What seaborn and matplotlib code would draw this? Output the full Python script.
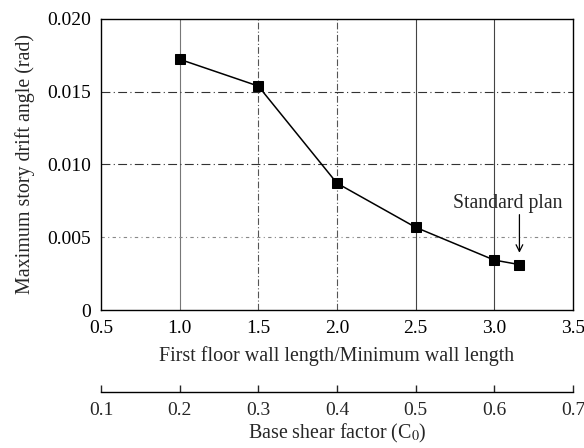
import matplotlib
matplotlib.use("Agg")
import matplotlib.pyplot as plt
import seaborn as sns
import pandas as pd

# Wall-length ratio vs. maximum story drift angle
wall_ratio = [1.0, 1.5, 2.0, 2.5, 3.0, 3.16]
drift_angle = [0.01722, 0.01538, 0.00871, 0.00568, 0.00343, 0.00312]
x_ticks = [0.5, 1.0, 1.5, 2.0, 2.5, 3.0, 3.5]
y_ticks = [0.0, 0.005, 0.010, 0.015, 0.020]
y_tick_labels = ["0", "0.005", "0.010", "0.015", "0.020"]
shear_ticks = [0.1, 0.2, 0.3, 0.4, 0.5, 0.6, 0.7]

sns.set_theme(style="white")
plt.rcParams["font.family"] = ["Liberation Serif", "DejaVu Serif"]
plt.rcParams["mathtext.fontset"] = "stix"

df = pd.DataFrame({"ratio": wall_ratio, "drift": drift_angle})

fig = plt.figure(figsize=(5.84, 4.48), dpi=100)
ax = fig.add_axes([0.173, 0.308, 0.808, 0.650])

# grid lines in mixed styles
for xv, ls, col in [(1.0, "-", "#777777"), (1.5, (0, (6, 2, 1, 2)), "#555555"),
                    (2.0, (0, (6, 2, 1, 2)), "#555555"), (2.5, "-", "#444444"),
                    (3.0, "-", "#444444")]:
    ax.axvline(xv, color=col, lw=0.8, ls=ls, zorder=0)
for yv, ls, col in [(0.015, (0, (8, 3, 1, 3)), "#333333"),
                    (0.010, (0, (8, 3, 1, 3)), "#333333"),
                    (0.005, (0, (3, 3, 1, 3)), "#888888")]:
    ax.axhline(yv, color=col, lw=0.8, ls=ls, zorder=0)

sns.lineplot(data=df, x="ratio", y="drift", ax=ax, color="black", lw=1.1,
             marker="s", markersize=7, markeredgecolor="black",
             markerfacecolor="black", zorder=3)

ax.set_xlim(0.5, 3.5)
ax.set_ylim(0, 0.020)
ax.set_xticks(x_ticks)
ax.set_xticklabels([f"{v:.1f}" for v in x_ticks])
ax.set_yticks(y_ticks)
ax.set_yticklabels(y_tick_labels)
ax.tick_params(axis="both", labelsize=14, direction="in", length=0, pad=7, colors="black")
for s in ax.spines.values():
    s.set_color("black")
    s.set_linewidth(1.0)

ax.set_xlabel("First floor wall length/Minimum wall length", fontsize=14.4, labelpad=7)
ax.set_ylabel("Maximum story drift angle (rad)", fontsize=14.4, labelpad=9)

# label and vertical arrow pointing at the standard plan
ax.text(3.087, 0.00731, "Standard plan", fontsize=14.2, ha="center", va="center")
ax.annotate("", xy=(wall_ratio[-1], 0.00393), xytext=(wall_ratio[-1], 0.00655),
            arrowprops=dict(arrowstyle="->", color="black", lw=0.9,
                            shrinkA=0, shrinkB=0))

# base shear factor scale beneath the main axis
def ratio_to_c0(r):
    return 0.1 + (r - 0.5) / 5.0


def c0_to_ratio(c):
    return 0.5 + (c - 0.1) * 5.0


sec = ax.secondary_xaxis(-0.282, functions=(ratio_to_c0, c0_to_ratio))
sec.set_xticks(shear_ticks)
sec.set_xticklabels([f"{v:.1f}" for v in shear_ticks])
sec.tick_params(direction="in", length=5, width=1.0, labelsize=14, pad=7)
sec.spines["bottom"].set_linewidth(1.0)
sec.spines["bottom"].set_color("black")
sec.set_xlabel("Base shear factor (C$_0$)", fontsize=14.4, labelpad=2)

fig.savefig("out.png", dpi=100)
